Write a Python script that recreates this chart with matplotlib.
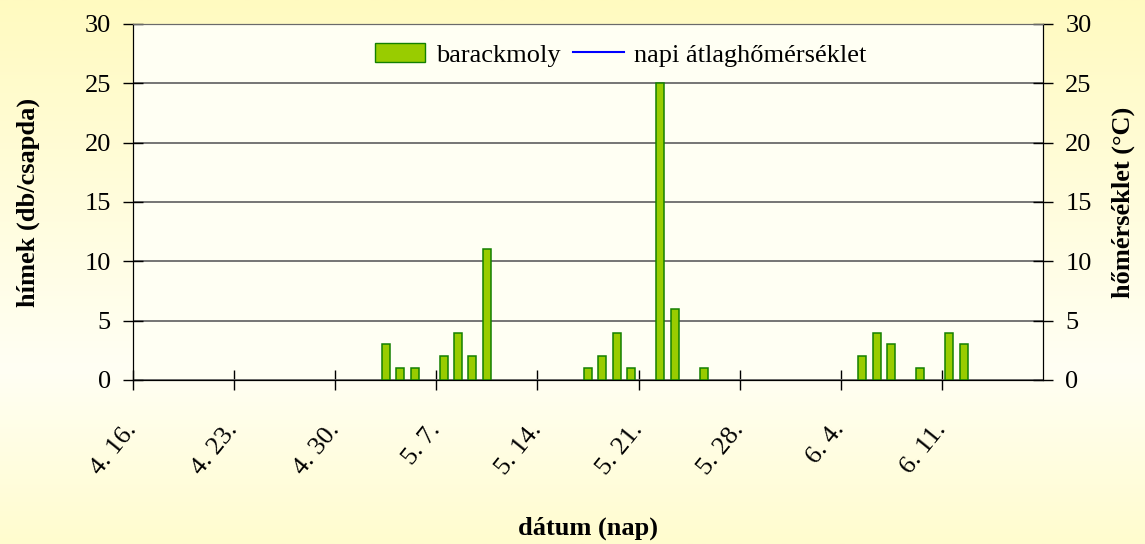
import matplotlib
matplotlib.use('Agg')
import matplotlib.pyplot as plt
from matplotlib.colors import LinearSegmentedColormap
from matplotlib.patches import Patch
from matplotlib.lines import Line2D
import numpy as np
import pandas as pd

plt.rcParams['font.family'] = ['Liberation Serif', 'DejaVu Serif']

# trap catches (barackmoly males per trap) - days not listed are 0
catch_dates = ["05-03", "05-04", "05-05", "05-07", "05-08", "05-09", "05-10",
               "05-17", "05-18", "05-19", "05-20", "05-22", "05-23", "05-25",
               "06-05", "06-06", "06-07", "06-09", "06-11", "06-12"]
catch_counts = [3, 1, 1, 2, 4, 2, 11,
                1, 2, 4, 1, 25, 6, 1,
                2, 4, 3, 1, 4, 3]
# daily mean temperature: no values drawn in the original
temp_dates = []
temp_values = []

start = pd.Timestamp("2010-04-16")
end = pd.Timestamp("2010-06-18")
tick_dates = pd.date_range(start, "2010-06-11", freq="7D")

dates = pd.to_datetime(["2010-" + d for d in catch_dates]) + pd.Timedelta(hours=12)

fig = plt.figure(figsize=(11.45, 5.44), dpi=100)

# background gradient
bg = fig.add_axes([0, 0, 1, 1], zorder=-10)
cmap = LinearSegmentedColormap.from_list("bg", [(0, "#fffac0"), (0.68, "#fffff4"), (1, "#fffcce")])
bg.imshow(np.linspace(0, 1, 256).reshape(-1, 1), aspect='auto', cmap=cmap, extent=[0, 1, 0, 1])
bg.axis('off')

ax = fig.add_axes([133/1145, 1-380/544, 910/1145, 356/544])
ax.set_facecolor("#fffff3")
ax2 = ax.twinx()

ax.bar(dates, catch_counts, width=0.55, color="#99cc00", edgecolor="#138000", linewidth=1.1, zorder=3)
ax2.plot(pd.to_datetime(temp_dates), temp_values, color="blue", lw=1.5)

ax.set_xlim(start, end)
ax.set_ylim(0, 30)
ax2.set_ylim(0, 30)
ax.set_yticks(np.arange(0, 31, 5))
ax2.set_yticks(np.arange(0, 31, 5))
ax.set_xticks(tick_dates)
ax.set_xticklabels([f"{d.month}. {d.day}." for d in tick_dates], rotation=51,
                   ha='right', va='center', rotation_mode='anchor')

ax.yaxis.grid(True, color="#6a6a6a", lw=1.3, zorder=0)
ax.set_axisbelow(True)

for a in (ax, ax2):
    a.spines['top'].set_color("#6a6a6a")
    a.tick_params(direction='inout', length=14, width=1, labelsize=19, color='black')
ax.tick_params(axis='y', pad=9)
ax2.tick_params(axis='y', pad=9)
ax.tick_params(axis='x', pad=26)

ax.set_ylabel("hímek (db/csapda)", fontsize=19, fontweight='bold')
ax.yaxis.set_label_coords(-0.1025, 0.5)
ax2.set_ylabel("hőmérséklet (°C)", fontsize=19, fontweight='bold', rotation=90)
ax2.yaxis.set_label_coords(1.0758, 0.5)
ax.set_xlabel("dátum (nap)", fontsize=19, fontweight='bold')
ax.xaxis.set_label_coords(0.5, -0.385)

handles = [Patch(facecolor="#99cc00", edgecolor="#138000", label="barackmoly"),
           Line2D([], [], color="blue", lw=1.5, label="napi átlaghőmérséklet")]
ax.legend(handles=handles, loc='center', bbox_to_anchor=(0.536, 0.913), ncol=2,
          frameon=False, fontsize=19, handlelength=1.9, handletextpad=0.4,
          columnspacing=0.5)

plt.savefig("out.png", dpi=100)
plt.close()
